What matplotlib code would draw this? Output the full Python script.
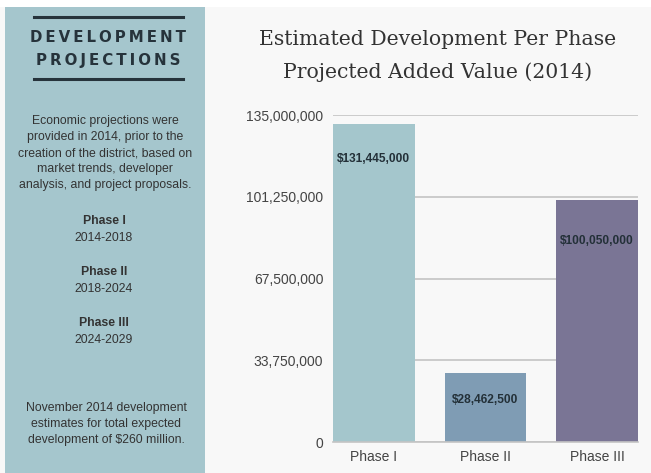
import matplotlib.pyplot as plt
from matplotlib.patches import Rectangle
from matplotlib.ticker import FuncFormatter

phases = ['Phase I', 'Phase II', 'Phase III']
values = [131445000, 28462500, 100050000]
value_labels = ['$131,445,000', '$28,462,500', '$100,050,000']
bar_colors = ['#a4c6cc', '#7f9cb4', '#7a7595']
yticks = [0, 33750000, 67500000, 101250000, 135000000]

side_heading = ['DEVELOPMENT', 'PROJECTIONS']
side_intro = ('Economic projections were\nprovided in 2014, prior to the\n'
              'creation of the district, based on\nmarket trends, developer\n'
              'analysis, and project proposals.')
side_phases = [('Phase I', '2014-2018'), ('Phase II', '2018-2024'), ('Phase III', '2024-2029')]
side_note = ('November 2014 development\nestimates for total expected\n'
             'development of $260 million.')

plt.rcParams['font.family'] = ['Liberation Sans', 'DejaVu Sans']

W, H = 651, 473
fig = plt.figure(figsize=(W / 100, H / 100), dpi=100)
fig.patch.set_facecolor('#f8f8f8')

# white strip on top, left info panel
fig.patches.append(Rectangle((0, 1 - 7 / H), 1, 7 / H, transform=fig.transFigure,
                             facecolor='white', edgecolor='none', zorder=0))
fig.patches.append(Rectangle((5 / W, 0), 200 / W, 1 - 7 / H, transform=fig.transFigure,
                             facecolor='#a5c6cd', edgecolor='none', zorder=0))

def fy(py):
    return 1 - py / H

def fx(px):
    return px / W

dark = '#26333b'
for py in (17, 79):
    fig.add_artist(plt.Line2D([fx(34), fx(183)], [fy(py), fy(py)], color=dark, lw=2.2))

thin = '\u2009'
for word, py in zip(side_heading, (37, 60)):
    fig.text(fx(108), fy(py), thin.join(word), ha='center', va='center',
             fontsize=10.8, fontweight='bold', color=dark, family='DejaVu Sans')

txt = '#333333'
fs_side = 8.8
fig.text(fx(105), fy(153), side_intro, ha='center', va='center', fontsize=fs_side,
         color=txt, linespacing=1.45)

for (name, years), py in zip(side_phases, (221, 272, 323)):
    fig.text(fx(104), fy(py), name, ha='center', va='center', fontsize=fs_side,
             fontweight='bold', color=txt)
    fig.text(fx(104), fy(py + 17), years, ha='center', va='center', fontsize=fs_side,
             color=txt)

fig.text(fx(106), fy(424), side_note, ha='center', va='center', fontsize=fs_side,
         color=txt, linespacing=1.45)

fig.text(fx(438), fy(56), 'Estimated Development Per Phase\nProjected Added Value (2014)',
         ha='center', va='center', fontsize=14.7, family='DejaVu Serif',
         color='#333333', linespacing=1.8)

# chart
ax = fig.add_axes([fx(333), fy(442), (638 - 333) / W, (442 - 115) / H])
ax.set_facecolor('#f8f8f8')
x = range(len(phases))
bars = ax.bar(x, values, width=0.73, color=bar_colors, zorder=2)
ax.set_xlim(-0.365, 2.365)
ax.set_ylim(0, 135000000)
ax.set_yticks(yticks)
ax.yaxis.set_major_formatter(FuncFormatter(lambda v, p: f'{int(v):,}'))
ax.set_xticks(list(x))
ax.set_xticklabels(phases)
ax.grid(axis='y', color='#c4c4c4', lw=1.2, zorder=0)
for s in ['top', 'right', 'left']:
    ax.spines[s].set_visible(False)
ax.spines['bottom'].set_color('#c4c4c4')
ax.spines['bottom'].set_linewidth(1.2)
ax.tick_params(length=0, labelsize=10, labelcolor='#444444')
ax.tick_params(axis='y', pad=7)
ax.tick_params(axis='x', pad=6)

label_offsets = [-35, -27, -41]
for b, lab, off in zip(bars, value_labels, label_offsets):
    ax.annotate(lab, (b.get_x() + b.get_width() / 2, b.get_height()),
                xytext=(0, off * 0.72), textcoords='offset points',
                ha='center', va='center', fontsize=8.6, fontweight='bold', color='#233038')

fig.savefig('out.png', dpi=100)
